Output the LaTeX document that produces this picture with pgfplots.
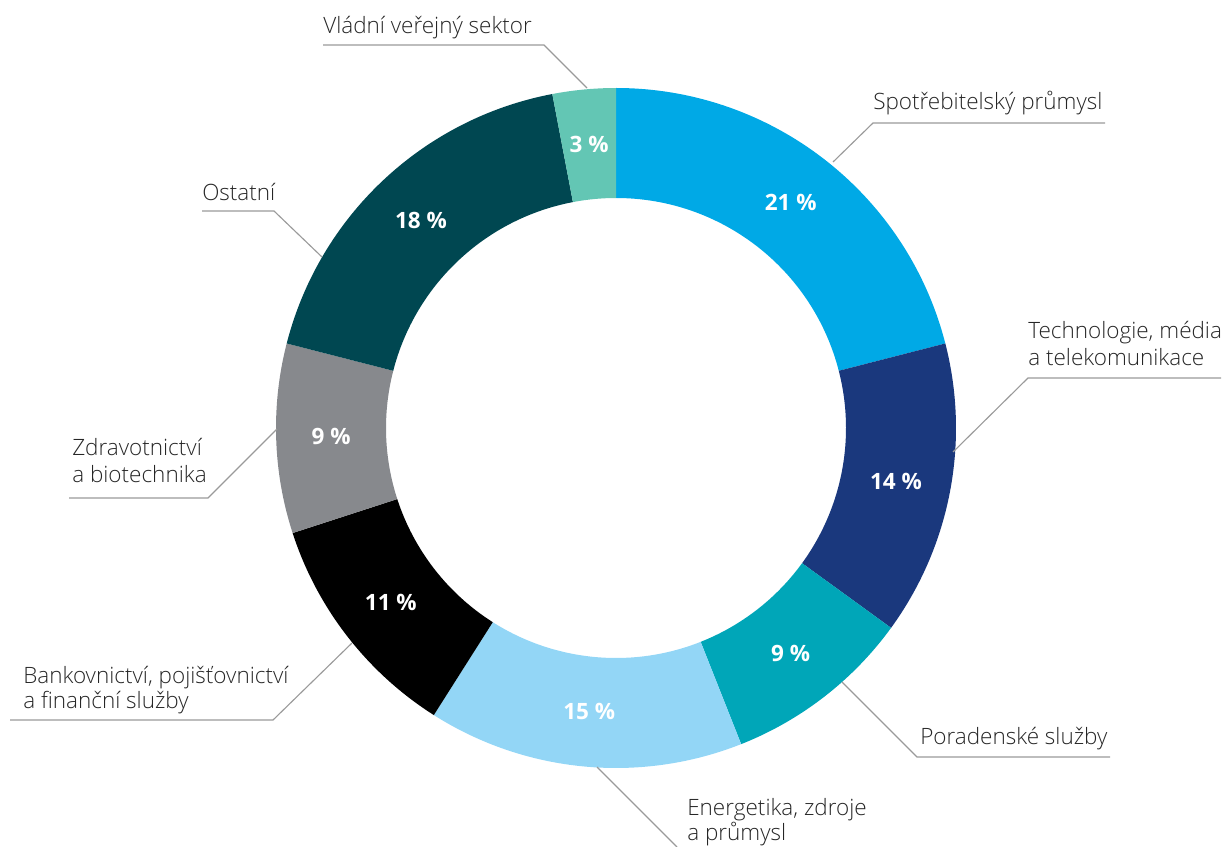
\documentclass[border=0pt]{standalone}
\usepackage{pgfplots}
\pgfplotsset{compat=1.18}
\usepackage{pgfplotstable}
\usepackage{fontspec}
\setmainfont{Open Sans}
\newfontfamily\lightfont{Open Sans Light}

\definecolor{cSpot}{HTML}{00A9E6}
\definecolor{cTech}{HTML}{1A387D}
\definecolor{cPor}{HTML}{00A6B8}
\definecolor{cEne}{HTML}{93D6F6}
\definecolor{cBank}{HTML}{000000}
\definecolor{cZdr}{HTML}{87898D}
\definecolor{cOst}{HTML}{004751}
\definecolor{cVla}{HTML}{63C6B4}
\definecolor{leader}{HTML}{9A9A9A}
\definecolor{txt}{HTML}{262626}

% shares in percent, clockwise from 12 o'clock
\pgfplotstableread{
value color
21 cSpot
14 cTech
9  cPor
15 cEne
11 cBank
9  cZdr
18 cOst
3  cVla
}\shares

\tikzset{
  lab/.style={anchor=base west, inner sep=0pt, text=txt,
    font=\lightfont\fontsize{16pt}{18pt}\selectfont},
  pct/.style={inner sep=0pt, text=white,
    font=\fontsize{16pt}{18pt}\selectfont\bfseries},
  ldr/.style={draw=leader, line width=0.8pt},
}

\begin{document}
\begin{tikzpicture}
\begin{axis}[
  x=0.25mm, y=0.25mm,
  xmin=0, xmax=1224, ymin=0, ymax=847,
  y dir=reverse,
  hide axis, clip=false,
]
% ring: centre (616,428), radii 340 / 230 px (85mm / 57.5mm)
\gdef\cum{0}
\pgfplotsinvokeforeach{0,...,7}{
  \pgfplotstablegetelem{#1}{value}\of\shares \let\val\pgfplotsretval
  \pgfplotstablegetelem{#1}{color}\of\shares \let\col\pgfplotsretval
  \pgfmathsetmacro\aS{90-3.6*\cum}
  \pgfmathsetmacro\aE{90-3.6*(\cum+\val)}
  \pgfmathsetmacro\aM{(\aS+\aE)/2}
  \pgfmathsetmacro\xo{616+340*cos(\aS)}
  \pgfmathsetmacro\yo{428-340*sin(\aS)}
  \pgfmathsetmacro\xi{616+230*cos(\aE)}
  \pgfmathsetmacro\yi{428-230*sin(\aE)}
  \pgfmathsetmacro\xm{616+285*cos(\aM)}
  \pgfmathsetmacro\ym{428-285*sin(\aM)}
  \pgfmathsetmacro\newcum{\cum+\val}
  \xdef\cum{\newcum}
  \edef\temp{%
    \noexpand\fill[\col] (axis cs:\xo,\yo)
      arc[start angle=\aS, end angle=\aE, radius=85mm]
      -- (axis cs:\xi,\yi)
      arc[start angle=\aE, end angle=\aS, radius=57.5mm] -- cycle;
    \noexpand\node[pct] at (axis cs:\xm,\ym) {\val\space\noexpand\%};
  }%
  \temp
}

% labels and leader lines
\node[lab] at (axis cs:323,34) {Vládní veřejný sektor};
\draw[ldr] (axis cs:323,45) -- (axis cs:544,45) -- (axis cs:587,88);

\node[lab] at (axis cs:873,110) {Spotřebitelský průmysl};
\draw[ldr] (axis cs:1105,123) -- (axis cs:873,123) -- (axis cs:833,162);

\node[lab] at (axis cs:1028,338) {Technologie, média};
\node[lab] at (axis cs:1028,365) {a telekomunikace};
\draw[ldr] (axis cs:1221,378) -- (axis cs:1028,378) -- (axis cs:953,452);

\node[lab] at (axis cs:920,744) {Poradenské služby};
\draw[ldr] (axis cs:1110,757) -- (axis cs:917,757) -- (axis cs:842,682);

\node[lab] at (axis cs:687,815) {Energetika, zdroje};
\node[lab] at (axis cs:687,840) {a průmysl};
\draw[ldr] (axis cs:597,767) -- (axis cs:677,847);

\node[lab] at (axis cs:23,683) {Bankovnictví, pojišťovnictví};
\node[lab] at (axis cs:23,708) {a finanční služby};
\draw[ldr] (axis cs:10,720) -- (axis cs:273,720) -- (axis cs:352,643);

\node[lab] at (axis cs:72,455) {Zdravotnictví};
\node[lab] at (axis cs:72,482) {a biotechnika};
\draw[ldr] (axis cs:69,498) -- (axis cs:208,498) -- (axis cs:277,429);

\node[lab] at (axis cs:202,201) {Ostatní};
\draw[ldr] (axis cs:202,211) -- (axis cs:274,211) -- (axis cs:322,257);
\end{axis}
\pgfresetboundingbox
\path[use as bounding box] (current axis.south west) rectangle (current axis.north east);
\end{tikzpicture}
\end{document}
